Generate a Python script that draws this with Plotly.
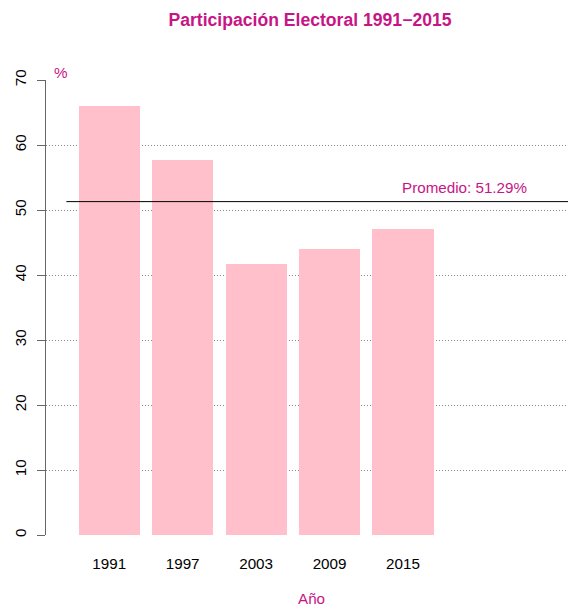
import plotly.graph_objects as go

years = ["1991", "1997", "2003", "2009", "2015"]
participacion = [65.97, 57.72, 41.71, 44.02, 47.03]
y_ticks = [0, 10, 20, 30, 40, 50, 60, 70]

promedio = sum(participacion) / len(participacion)
positions = [0.7 + 1.2 * i for i in range(len(years))]

MAG = "#C71585"
FONT = "Liberation Sans, Arial, Helvetica, sans-serif"
FS = 15.2

x_min, x_max = -0.333, 8.196

fig = go.Figure()
fig.add_trace(go.Bar(x=positions, y=participacion, width=1.0,
                     marker=dict(color="#FFC0CB", line=dict(width=0)),
                     hoverinfo="skip", showlegend=False))
fig.add_trace(go.Scatter(x=[0, x_max], y=[promedio, promedio], mode="lines",
                         line=dict(color="black", width=1), showlegend=False,
                         hoverinfo="skip"))

fig.update_layout(
    width=568, height=606,
    margin=dict(l=46, r=0, t=80, b=71, autoexpand=False),
    paper_bgcolor="white", plot_bgcolor="white",
    font=dict(family=FONT, size=FS, color="black"),
    title=dict(text="<b>Participación Electoral 1991−2015</b>",
               x=310 / 568, xref="container", xanchor="center",
               y=1 - 20 / 606, yref="container", yanchor="middle",
               font=dict(size=17.6, color=MAG, family=FONT)),
    xaxis=dict(range=[x_min, x_max], tickvals=positions, ticktext=years,
               showgrid=False, zeroline=False, showline=False, ticks="",
               automargin=False,
               ticklabelstandoff=18, tickfont=dict(size=FS)),
    yaxis=dict(range=[0, 70], tickvals=y_ticks, showgrid=True,
               gridcolor="#8a8a8a", griddash="1px,2px", gridwidth=1,
               zeroline=False, showline=True, linecolor="#666666", linewidth=1,
               ticks="outside", ticklen=8, tickcolor="#666666", tickwidth=1,
               automargin=False,
               tickangle=-90, ticklabelstandoff=5, tickfont=dict(size=FS)),
    bargap=0,
)

fig.add_annotation(text="%", xref="x domain", yref="y domain",
                   x=(61 - 46) / 522, y=(535 - 72) / 455,
                   xanchor="center", yanchor="middle", showarrow=False,
                   font=dict(color=MAG, size=FS))
fig.add_annotation(text="Año", xref="x domain", yref="paper",
                   x=(311 - 46) / 522, y=-(598 - 535) / 455,
                   xanchor="center", yanchor="middle", showarrow=False,
                   font=dict(color=MAG, size=FS))
fig.add_annotation(text="Promedio: " + f"{promedio:.2f}%", xref="x domain", yref="y",
                   x=(464 - 46) / 522, y=promedio, yshift=14,
                   xanchor="center", yanchor="middle", showarrow=False,
                   font=dict(color=MAG, size=FS))

fig.write_html("out.html", config={"displayModeBar": False},
               post_script="document.body.style.margin='0';document.body.style.overflow='hidden';")
